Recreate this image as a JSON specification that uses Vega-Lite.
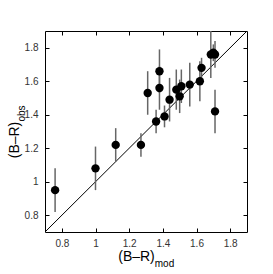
{
  "$schema": "https://vega.github.io/schema/vega-lite/v6.json",
  "width": 202,
  "height": 201,
  "autosize": "none",
  "padding": {"left": 45, "top": 31, "right": 26, "bottom": 42},
  "background": "white",
  "config": {
    "view": {"stroke": "black", "strokeWidth": 1},
    "axis": {
      "domain": false,
      "grid": false,
      "tickColor": "black",
      "tickSize": -4,
      "tickWidth": 1,
      "labelFont": "Liberation Sans",
      "labelFontSize": 10,
      "labelColor": "#333333",
      "titleFont": "Liberation Sans",
      "titleColor": "black",
      "titleFontWeight": "normal",
      "values": [0.8, 1, 1.2, 1.4, 1.6, 1.8],
      "format": "~g"
    }
  },
  "datasets": {
    "diag": [{"d": 0.7}, {"d": 1.9}],
    "pts": [
      {"x": 0.76, "y": 0.95, "err": 0.13},
      {"x": 1.00, "y": 1.08, "err": 0.13},
      {"x": 1.12, "y": 1.22, "err": 0.10},
      {"x": 1.27, "y": 1.22, "err": 0.07},
      {"x": 1.36, "y": 1.36, "err": 0.07},
      {"x": 1.41, "y": 1.39, "err": 0.065},
      {"x": 1.31, "y": 1.53, "err": 0.13},
      {"x": 1.38, "y": 1.66, "err": 0.13},
      {"x": 1.38, "y": 1.56, "err": 0.13},
      {"x": 1.44, "y": 1.49, "err": 0.13},
      {"x": 1.48, "y": 1.55, "err": 0.12},
      {"x": 1.50, "y": 1.51, "err": 0.10},
      {"x": 1.51, "y": 1.57, "err": 0.10},
      {"x": 1.56, "y": 1.58, "err": 0.13},
      {"x": 1.62, "y": 1.60, "err": 0.12},
      {"x": 1.63, "y": 1.68, "err": 0.06},
      {"x": 1.685, "y": 1.76, "err": 0.14},
      {"x": 1.70, "y": 1.77, "err": 0.05},
      {"x": 1.71, "y": 1.76, "err": 0.08},
      {"x": 1.71, "y": 1.42, "err": 0.13}
    ]
  },
  "layer": [
    {
      "data": {"name": "diag"},
      "mark": {"type": "line", "color": "black", "strokeWidth": 1},
      "encoding": {
        "x": {
          "field": "d", "type": "quantitative",
          "scale": {"domain": [0.7, 1.9], "nice": false, "zero": false},
          "axis": {"orient": "bottom", "labelPadding": 10, "title": "(B–R)", "titleFontSize": 14,
                   "titleX": 91, "titleY": 28, "titleAlign": "center", "titleBaseline": "alphabetic", "titleAngle": 0}
        },
        "y": {
          "field": "d", "type": "quantitative",
          "scale": {"domain": [0.7, 1.9], "nice": false, "zero": false},
          "axis": {"orient": "left", "labelPadding": 11, "title": "(B–R)", "titleFontSize": 14,
                   "titleX": -27, "titleY": 108.5, "titleAlign": "center", "titleBaseline": "alphabetic", "titleAngle": -90}
        }
      }
    },
    {
      "data": {"name": "diag"},
      "mark": {"type": "line", "opacity": 0},
      "encoding": {
        "x": {
          "field": "d", "type": "quantitative",
          "axis": {"orient": "bottom", "labels": false, "ticks": false, "title": "mod", "titleFontSize": 10,
                   "titleX": 119, "titleY": 34, "titleAlign": "center", "titleBaseline": "alphabetic", "titleAngle": 0}
        },
        "y": {
          "field": "d", "type": "quantitative",
          "axis": {"orient": "left", "labels": false, "ticks": false, "title": "obs", "titleFontSize": 10,
                   "titleX": -21, "titleY": 82, "titleAlign": "center", "titleBaseline": "alphabetic", "titleAngle": -90}
        }
      }
    },
    {
      "data": {"name": "pts"},
      "mark": {"type": "errorbar", "rule": {"stroke": "#666666", "strokeWidth": 1.5}},
      "encoding": {
        "x": {"field": "x", "type": "quantitative", "axis": null},
        "y": {"field": "y", "type": "quantitative", "axis": null},
        "yError": {"field": "err"}
      }
    },
    {
      "data": {"name": "pts"},
      "mark": {"type": "circle", "color": "black", "opacity": 1, "size": 70},
      "encoding": {
        "x": {"field": "x", "type": "quantitative", "axis": {"orient": "top", "labels": false, "title": null}},
        "y": {"field": "y", "type": "quantitative", "axis": {"orient": "right", "labels": false, "title": null}}
      }
    }
  ],
  "resolve": {"axis": {"x": "independent", "y": "independent"}}
}
